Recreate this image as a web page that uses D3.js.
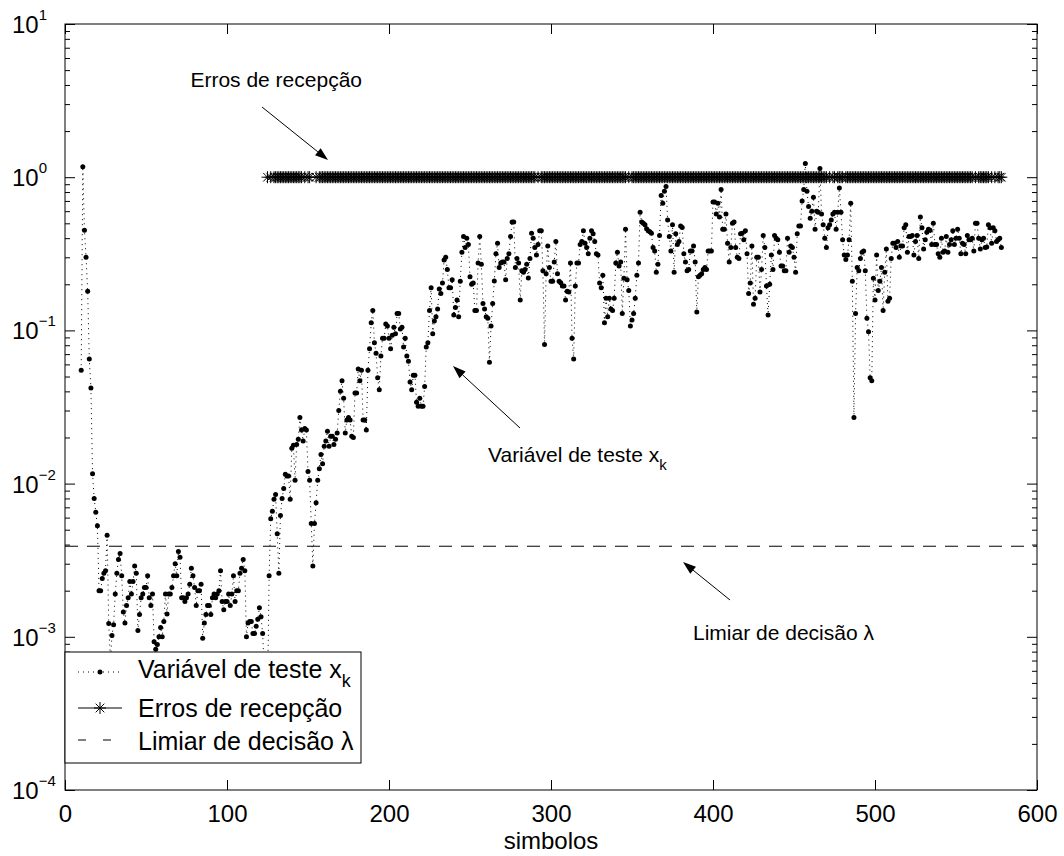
<!DOCTYPE html>
<html><head><meta charset="utf-8">
<script src="https://cdn.jsdelivr.net/npm/d3@7"></script>
<style>
body{margin:0;background:#fff}
svg{display:block}
text{font-family:"Liberation Sans",Arial,Helvetica,sans-serif;fill:#000}
</style>
</head><body>
<svg id="chart" width="1064" height="856"></svg>
<script>
// ---------------- data ----------------
const xStart = 10; // first sample index of the test variable
const testValues = [
0.055,1.17,0.45,0.30,0.18,0.065,0.042,0.0116,0.0080,0.0065,
0.0053,0.0020,0.0020,0.0024,0.0026,0.0027,0.0046,0.00122,0.0007,0.00102,
0.0012,0.0019,0.0026,0.0032,0.0035,0.0025,0.00145,0.00123,0.0016,0.0018,
0.0023,0.0019,0.0023,0.0029,0.0026,0.0011,0.0014,0.0018,0.0019,0.0021,
0.0021,0.0025,0.0018,0.0016,0.0019,0.00093,0.00083,0.00089,0.0010,0.00115,
0.0010,0.00126,0.0019,0.00141,0.0019,0.0019,0.0021,0.0025,0.0030,0.0025,
0.0036,0.0033,0.0018,0.0018,0.0017,0.0018,0.0019,0.0022,0.0028,0.0025,
0.0021,0.0016,0.0020,0.0020,0.0022,0.00098,0.00123,0.0014,0.0016,0.0016,
0.0014,0.0018,0.0019,0.0018,0.0019,0.0020,0.0027,0.0017,0.0015,0.0017,
0.0017,0.0019,0.0016,0.0019,0.0025,0.0017,0.0020,0.0020,0.0026,0.0028,
0.0032,0.0027,0.0010,0.00123,0.00126,0.00126,0.00105,0.00105,0.00117,0.0013,
0.00155,0.00135,0.00105,0.0006,0.0003,0.0004,0.0025,0.0059,0.0066,0.0079,
0.0085,0.0047,0.0026,0.0062,0.0080,0.0093,0.0115,0.0112,0.0112,0.0079,
0.017,0.0178,0.0105,0.018,0.0195,0.027,0.0224,0.019,0.0229,0.0224,
0.012,0.0105,0.0055,0.0029,0.0055,0.0075,0.0105,0.0125,0.0155,0.0135,
0.0175,0.019,0.022,0.0175,0.0204,0.0204,0.018,0.0195,0.0214,0.030,
0.040,0.047,0.036,0.0214,0.026,0.027,0.026,0.0204,0.020,0.039,
0.039,0.056,0.047,0.055,0.026,0.026,0.0224,0.055,0.076,0.112,
0.135,0.083,0.071,0.049,0.041,0.068,0.089,0.089,0.11,0.107,
0.089,0.076,0.093,0.105,0.095,0.129,0.129,0.102,0.105,0.078,
0.089,0.068,0.063,0.046,0.041,0.051,0.051,0.034,0.032,0.036,
0.032,0.032,0.043,0.078,0.083,0.135,0.19,0.095,0.115,0.123,
0.138,0.186,0.174,0.204,0.288,0.30,0.25,0.19,0.19,0.214,
0.126,0.141,0.158,0.123,0.209,0.324,0.41,0.347,0.40,0.363,
0.224,0.20,0.204,0.135,0.135,0.275,0.41,0.27,0.15,0.138,
0.123,0.12,0.062,0.107,0.15,0.21,0.316,0.37,0.257,0.275,
0.28,0.28,0.214,0.295,0.316,0.41,0.51,0.51,0.257,0.295,
0.275,0.158,0.245,0.24,0.25,0.27,0.22,0.295,0.43,0.40,
0.347,0.31,0.363,0.447,0.447,0.245,0.081,0.234,0.355,0.257,
0.209,0.209,0.28,0.38,0.234,0.209,0.205,0.195,0.195,0.158,
0.18,0.178,0.275,0.089,0.065,0.195,0.275,0.275,0.363,0.38,
0.447,0.37,0.347,0.316,0.40,0.447,0.427,0.38,0.316,0.31,
0.204,0.19,0.229,0.112,0.162,0.123,0.162,0.138,0.135,0.162,
0.275,0.324,0.263,0.28,0.129,0.219,0.457,0.214,0.182,0.107,
0.117,0.129,0.162,0.229,0.275,0.59,0.51,0.50,0.49,0.46,
0.447,0.44,0.43,0.347,0.33,0.24,0.27,0.417,0.76,0.676,
0.81,0.87,0.525,0.41,0.33,0.49,0.24,0.427,0.363,0.38,
0.48,0.47,0.316,0.28,0.245,0.25,0.33,0.33,0.355,0.28,
0.132,0.224,0.229,0.234,0.25,0.257,0.25,0.33,0.33,0.33,
0.69,0.69,0.575,0.676,0.55,0.83,0.457,0.457,0.575,0.37,
0.28,0.347,0.50,0.51,0.347,0.30,0.295,0.427,0.43,0.39,
0.447,0.316,0.174,0.204,0.355,0.148,0.162,0.30,0.30,0.178,
0.25,0.417,0.347,0.195,0.126,0.20,0.31,0.25,0.417,0.40,
0.39,0.324,0.263,0.263,0.245,0.245,0.40,0.324,0.355,0.347,
0.30,0.24,0.427,0.48,0.48,0.70,0.83,1.23,0.81,0.645,
0.54,0.60,0.74,0.457,0.60,0.59,1.14,0.575,0.49,0.40,
0.347,0.468,0.49,0.525,0.575,0.59,0.457,0.59,0.85,0.59,
0.39,0.31,0.29,0.31,0.39,0.676,0.209,0.027,0.129,0.257,
0.245,0.295,0.324,0.33,0.245,0.12,0.098,0.049,0.047,0.219,
0.158,0.31,0.182,0.209,0.257,0.135,0.24,0.34,0.155,0.162,
0.295,0.37,0.37,0.347,0.38,0.30,0.355,0.355,0.468,0.49,
0.324,0.41,0.41,0.417,0.31,0.38,0.417,0.295,0.55,0.468,
0.34,0.39,0.437,0.457,0.45,0.363,0.50,0.363,0.363,0.316,
0.30,0.40,0.324,0.33,0.41,0.324,0.363,0.39,0.447,0.363,
0.40,0.457,0.40,0.316,0.37,0.363,0.316,0.417,0.39,0.39,
0.40,0.33,0.50,0.50,0.40,0.34,0.39,0.40,0.347,0.35,
0.49,0.468,0.37,0.468,0.447,0.38,0.39,0.40,0.347
];
// sample indices (first,last) of runs where a reception error occurred (value 1)
const errorRuns = [[125,125],[127,127],[129,146],[148,148],[150,151],[155,155],[157,290],
  [292,292],[294,346],[348,348],[350,470],[472,472],[474,475],[477,480],[482,560],
  [562,562],[564,570],[572,572],[574,574],[576,578]];
const errorLevel = 1;
const threshold = 0.0039;
const xTicks = [0,100,200,300,400,500,600];
const yTickExponents = [-4,-3,-2,-1,0,1];
const legendLabels = ["Variável de teste x", "Erros de recepção", "Limiar de decisão λ"];
const annotationLabels = ["Erros de recepção", "Variável de teste x", "Limiar de decisão λ"];
const xLabel = "simbolos";

// ---------------- layout ----------------
const L = 65, R = 1037, T = 24, B = 790;
const svg = d3.select("#chart");
const x = d3.scaleLinear().domain([0, 600]).range([L, R]);
const y = d3.scaleLog().domain([1e-4, 10]).range([B, T]);

svg.append("defs").append("clipPath").attr("id", "plotclip")
  .append("rect").attr("x", L).attr("y", T).attr("width", R - L).attr("height", B - T);

const plot = svg.append("g").attr("clip-path", "url(#plotclip)");

const testPts = testValues.map((v, i) => ({n: xStart + i, v}));
const errorPts = [];
errorRuns.forEach(([a, b]) => { for (let n = a; n <= b; n++) errorPts.push({n, v: errorLevel}); });

// test variable: dotted line + dots
plot.append("path").datum(testPts)
  .attr("d", d3.line().x(d => x(d.n)).y(d => y(d.v)))
  .attr("fill", "none").attr("stroke", "#000").attr("stroke-width", 1)
  .attr("stroke-dasharray", "1,4");
plot.append("g").selectAll("circle").data(testPts).join("circle")
  .attr("cx", d => x(d.n)).attr("cy", d => y(d.v)).attr("r", 2.5).attr("fill", "#000");

// errors: solid line + asterisks
const asterisk = "M-6,0H6M0,-6V6M-4.3,-4.3L4.3,4.3M-4.3,4.3L4.3,-4.3";
plot.append("path").datum(errorPts)
  .attr("d", d3.line().x(d => x(d.n)).y(d => y(d.v)))
  .attr("fill", "none").attr("stroke", "#000").attr("stroke-width", 1);
plot.append("g").selectAll("path").data(errorPts).join("path")
  .attr("transform", d => `translate(${x(d.n)},${y(d.v)})`)
  .attr("d", asterisk).attr("stroke", "#000").attr("stroke-width", 1).attr("fill", "none");

// threshold dashed
plot.append("line")
  .attr("x1", x(0)).attr("x2", x(600)).attr("y1", y(threshold)).attr("y2", y(threshold))
  .attr("stroke", "#000").attr("stroke-width", 1).attr("stroke-dasharray", "13,9");

// ---------------- axes ----------------
const axG = svg.append("g");
const minorY = [];
for (let e = -4; e < 1; e++) for (let k = 2; k <= 9; k++) minorY.push(k * Math.pow(10, e));
const majorY = yTickExponents.map(e => Math.pow(10, e));

axG.append("g").attr("transform", `translate(0,${B})`)
  .call(d3.axisBottom(x).tickValues(xTicks).tickSizeInner(-10).tickSizeOuter(0).tickPadding(15).tickFormat(d3.format("d")))
  .call(g => { g.select(".domain").remove(); g.selectAll("text").attr("font-size", 24).attr("font-family", "Liberation Sans, Arial, sans-serif"); });
axG.append("g").attr("transform", `translate(0,${T})`)
  .call(d3.axisTop(x).tickValues(xTicks).tickSizeInner(-10).tickSizeOuter(0).tickFormat(""))
  .call(g => g.select(".domain").remove());
[[d3.axisLeft, L], [d3.axisRight, R]].forEach(([ax, pos]) => {
  axG.append("g").attr("transform", `translate(${pos},0)`)
    .call(ax(y).tickValues(majorY).tickSizeInner(-10).tickSizeOuter(0).tickFormat(""))
    .call(g => g.select(".domain").remove());
  axG.append("g").attr("transform", `translate(${pos},0)`)
    .call(ax(y).tickValues(minorY).tickSizeInner(-5).tickSizeOuter(0).tickFormat(""))
    .call(g => g.select(".domain").remove());
});
axG.selectAll(".tick line").attr("stroke", "#000");
axG.append("rect").attr("x", L).attr("y", T).attr("width", R - L).attr("height", B - T)
  .attr("fill", "none").attr("stroke", "#000").attr("stroke-width", 1);

// y tick labels 10^e
const yl = svg.append("g");
yTickExponents.forEach(e => {
  const t = yl.append("text").attr("x", 12).attr("y", y(Math.pow(10, e)) + 9).attr("font-size", 24);
  t.append("tspan").text("10");
  t.append("tspan").attr("dy", -13).attr("font-size", 15).text(e < 0 ? "\u2212" + (-e) : String(e));
});

svg.append("text").attr("x", (L + R) / 2).attr("y", 849).attr("text-anchor", "middle")
  .attr("font-size", 24).text(xLabel);

// ---------------- annotations ----------------
function arrow(x1, y1, x2, y2) {
  const g = svg.append("g");
  const ang = Math.atan2(y2 - y1, x2 - x1), len = 13, hw = 4.5;
  const bx = x2 - len * Math.cos(ang), by = y2 - len * Math.sin(ang);
  g.append("line").attr("x1", x1).attr("y1", y1).attr("x2", bx).attr("y2", by)
    .attr("stroke", "#000").attr("stroke-width", 1);
  g.append("path").attr("d", `M${x2},${y2}L${bx + hw * Math.sin(ang)},${by - hw * Math.cos(ang)}L${bx - hw * Math.sin(ang)},${by + hw * Math.cos(ang)}Z`)
    .attr("fill", "#000");
}
svg.append("text").attr("x", 362).attr("y", 87).attr("text-anchor", "end").attr("font-size", 21).text(annotationLabels[0]);
arrow(262, 107, 328, 160);

const va = svg.append("text").attr("x", 488).attr("y", 462).attr("font-size", 21);
va.append("tspan").text(annotationLabels[1]);
va.append("tspan").attr("dy", 8).attr("font-size", 15).text("k");
arrow(520, 428, 453, 366);

svg.append("text").attr("x", 693).attr("y", 640).attr("font-size", 21).text(annotationLabels[2]);
arrow(730, 600, 683, 562);

// ---------------- legend ----------------
const lg = svg.append("g");
lg.append("rect").attr("x", L).attr("y", 652).attr("width", 296).attr("height", 111)
  .attr("fill", "#fff").attr("stroke", "#000").attr("stroke-width", 1);
const rowsY = [672, 708, 740];
const baseY = [678, 717, 750];
lg.append("line").attr("x1", 78).attr("x2", 122).attr("y1", rowsY[0]).attr("y2", rowsY[0])
  .attr("stroke", "#000").attr("stroke-dasharray", "1,4");
lg.append("circle").attr("cx", 100).attr("cy", rowsY[0]).attr("r", 2.5).attr("fill", "#000");
lg.append("line").attr("x1", 78).attr("x2", 122).attr("y1", rowsY[1]).attr("y2", rowsY[1]).attr("stroke", "#000");
lg.append("path").attr("transform", `translate(100,${rowsY[1]})`).attr("d", asterisk).attr("stroke", "#000");
lg.append("line").attr("x1", 78).attr("x2", 122).attr("y1", rowsY[2]).attr("y2", rowsY[2])
  .attr("stroke", "#000").attr("stroke-dasharray", "8,17");
legendLabels.forEach((s, i) => {
  const t = lg.append("text").attr("x", 138).attr("y", baseY[i]).attr("font-size", 25);
  t.append("tspan").text(s);
  if (i === 0) t.append("tspan").attr("dy", 9).attr("font-size", 18).text("k");
});
</script>
</body></html>
